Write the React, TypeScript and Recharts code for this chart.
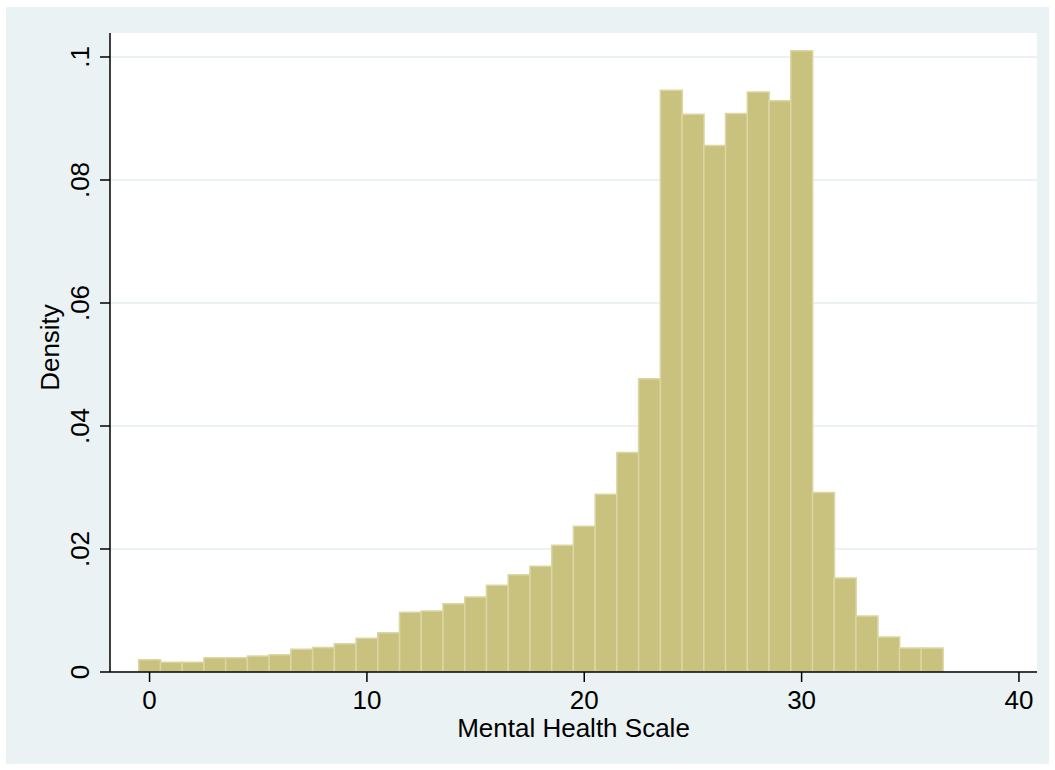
import React from 'react';
import {
  ComposedChart,
  Bar,
  XAxis,
  YAxis,
  CartesianGrid,
} from 'recharts';

// Histogram bins (score centre) and their density
const binCenters = [
  0, 1, 2, 3, 4, 5, 6, 7, 8, 9, 10, 11, 12, 13, 14, 15, 16, 17, 18,
  19, 20, 21, 22, 23, 24, 25, 26, 27, 28, 29, 30, 31, 32, 33, 34, 35, 36,
];
const densities = [
  0.002, 0.0016, 0.0016, 0.0023, 0.0023, 0.0026, 0.0028, 0.0037, 0.004, 0.0046,
  0.0055, 0.0064, 0.0097, 0.0099, 0.0111, 0.0122, 0.0141, 0.0158, 0.0172, 0.0206,
  0.0237, 0.0289, 0.0357, 0.0477, 0.0946, 0.0907, 0.0856, 0.0908, 0.0943, 0.0929,
  0.101, 0.0292, 0.0153, 0.0091, 0.0057, 0.0039, 0.0039,
];

const xTicks = [0, 10, 20, 30, 40];
const yTicks = [0, 0.02, 0.04, 0.06, 0.08, 0.1];
const yTickLabels = ['0', '.02', '.04', '.06', '.08', '.1'];

const data = binCenters.map((x, i) => ({ x, density: densities[i] }));

const FONT = '"Liberation Sans", Arial, Helvetica, sans-serif';
const BG = '#eaf2f3';

const YTick = (props: any) => {
  const { x, y, payload } = props;
  const idx = yTicks.indexOf(payload.value);
  const label = idx >= 0 ? yTickLabels[idx] : String(payload.value);
  const tx = x - 9;
  return (
    <text
      x={tx}
      y={y}
      transform={`rotate(-90, ${tx}, ${y})`}
      textAnchor="middle"
      fontSize={26}
      fontFamily={FONT}
      fill="#000"
    >
      {label}
    </text>
  );
};

const XTick = (props: any) => {
  const { x, y, payload } = props;
  return (
    <text
      x={x}
      y={y + 25}
      textAnchor="middle"
      fontSize={26}
      fontFamily={FONT}
      fill="#000"
    >
      {payload.value}
    </text>
  );
};

export default function App() {
  return (
    <div
      style={{
        position: 'absolute',
        left: 0,
        top: 0,
        width: 1055,
        height: 770,
        background: '#fff',
      }}
    >
      {/* Stata-style outer panel */}
      <div
        style={{
          position: 'absolute',
          left: 6,
          top: 7,
          width: 1043,
          height: 757,
          background: BG,
        }}
      />
      <div style={{ position: 'absolute', left: 0, top: 0 }}>
        <ComposedChart
          width={1055}
          height={770}
          data={data}
          margin={{ top: 33, right: 18, bottom: 0, left: 0 }}
          barCategoryGap={0}
          barGap={0}
        >
          <CartesianGrid
            vertical={false}
            fill="#fff"
            stroke={BG}
            strokeWidth={2}
            horizontalValues={yTicks}
          />
          <XAxis
            type="number"
            dataKey="x"
            domain={[-1.82, 40.83]}
            allowDataOverflow
            ticks={xTicks}
            height={98}
            tickSize={10}
            axisLine={{ stroke: '#000', strokeWidth: 1.5 }}
            tickLine={{ stroke: '#000', strokeWidth: 1.5 }}
            tick={<XTick />}
            label={{
              content: ({ viewBox }: any) => (
                <text
                  x={viewBox.x + viewBox.width / 2}
                  y={viewBox.y + 65}
                  textAnchor="middle"
                  fontSize={26}
                  fontFamily={FONT}
                  fill="#000"
                >
                  Mental Health Scale
                </text>
              ),
            }}
          />
          <YAxis
            type="number"
            domain={[0, 0.1039]}
            allowDataOverflow
            ticks={yTicks}
            width={110}
            tickSize={10}
            axisLine={{ stroke: '#000', strokeWidth: 1.5 }}
            tickLine={{ stroke: '#000', strokeWidth: 1.5 }}
            tick={<YTick />}
            label={{
              content: ({ viewBox }: any) => {
                const cx = 59;
                const cy = viewBox.y + viewBox.height / 2 - 5;
                return (
                  <text
                    x={cx}
                    y={cy}
                    transform={`rotate(-90, ${cx}, ${cy})`}
                    textAnchor="middle"
                    fontSize={26}
                    fontFamily={FONT}
                    fill="#000"
                  >
                    Density
                  </text>
                );
              },
            }}
          />
          <Bar
            dataKey="density"
            fill="#c9c27f"
            stroke="#dcd6a4"
            strokeWidth={1.5}
            isAnimationActive={false}
          />
        </ComposedChart>
      </div>
    </div>
  );
}
